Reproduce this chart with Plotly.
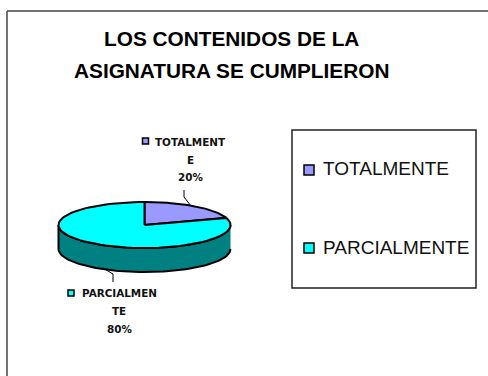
import numpy as np
import plotly.graph_objects as go

categories = ['TOTALMENTE', 'PARCIALMENTE']
percents = [20, 80]
top_colors = ['#9999FF', '#00FFFF']
side_color = '#008080'
title_lines = ['LOS CONTENIDOS DE LA', 'ASIGNATURA SE CUMPLIERON']

# pie geometry in page pixels
cx, cy, rx, ry, depth = 144.5, 225, 86, 23, 24


def ell(a):
    return cx + rx * np.sin(a), cy - ry * np.cos(a)


fig = go.Figure()

# side wall, front half of the pie
a = np.linspace(np.pi / 2, 3 * np.pi / 2, 80)
x, y = ell(a)
fig.add_trace(go.Scatter(x=np.r_[x, x[::-1]], y=np.r_[y + depth, y[::-1]], mode='lines', fill='toself',
                         fillcolor=side_color, line=dict(color='black', width=2), hoverinfo='skip'))

# top slices, starting at 12 o'clock going clockwise
start = 0
for name, pct, col in zip(categories, percents, top_colors):
    end = start + pct / sum(percents) * 2 * np.pi
    a = np.linspace(start, end, 80)
    x, y = ell(a)
    fig.add_trace(go.Scatter(x=np.r_[cx, x, cx], y=np.r_[cy, y, cy], mode='lines', fill='toself', name=name,
                             fillcolor=col, line=dict(color='black', width=2)))
    start = end

# leader lines
fig.add_trace(go.Scatter(x=[184, 184, 191], y=[190, 197, 206], mode='lines', line=dict(color='black', width=1)))
fig.add_trace(go.Scatter(x=[113, 113, 103], y=[282, 274, 268], mode='lines', line=dict(color='black', width=1)))

# data labels with their colour keys
fig.add_trace(go.Scatter(x=[145.5, 71], y=[141, 293], mode='markers',
                         marker=dict(symbol='square', size=6, color=top_colors, line=dict(color='black', width=1.5))))
label_font = dict(family='DejaVu Sans', size=10.4, color='#111111', weight='bold')
for tx, ty, s in [(190.5, 142, 'TOTALMENT'), (190, 160, 'E'), (190, 177, f'{percents[0]}%'),
                  (119.5, 293, 'PARCIALMEN'), (119, 311, 'TE'), (119, 329, f'{percents[1]}%')]:
    fig.add_annotation(x=tx, y=ty, text=s, showarrow=False, font=label_font)

# legend box contents
fig.add_trace(go.Scatter(x=[309, 309], y=[170, 248], mode='markers',
                         marker=dict(symbol='square', size=10, color=top_colors, line=dict(color='black', width=1.5))))
for ty, s in zip([168, 247], categories):
    fig.add_annotation(x=321, y=ty, text=s, showarrow=False, xanchor='left',
                       font=dict(family='Liberation Sans', size=19, color='#111111'))

for ty, s in zip([38, 70], title_lines):
    fig.add_annotation(x=231, y=ty, text=s, showarrow=False,
                       font=dict(family='Liberation Sans', size=20.8, color='black', weight='bold'))

fig.add_shape(type='rect', x0=292, y0=130, x1=476, y1=288, line=dict(color='#222222', width=1.5))
fig.add_shape(type='line', x0=7, y0=11, x1=488, y1=11, line=dict(color='#444444', width=1.5))
fig.add_shape(type='line', x0=7, y0=11, x1=7, y1=376, line=dict(color='#444444', width=1.5))

fig.update_xaxes(range=[0, 488], visible=False, fixedrange=True)
fig.update_yaxes(range=[376, 0], visible=False, fixedrange=True)
fig.update_layout(width=488, height=376, margin=dict(l=0, r=0, t=0, b=0), showlegend=False,
                  paper_bgcolor='white', plot_bgcolor='white')

# page margin off so the figure sits at the window corner
fig.write_html("out.html", config=dict(displayModeBar=False),
               post_script="document.body.style.margin='0';document.body.style.overflow='hidden';")
